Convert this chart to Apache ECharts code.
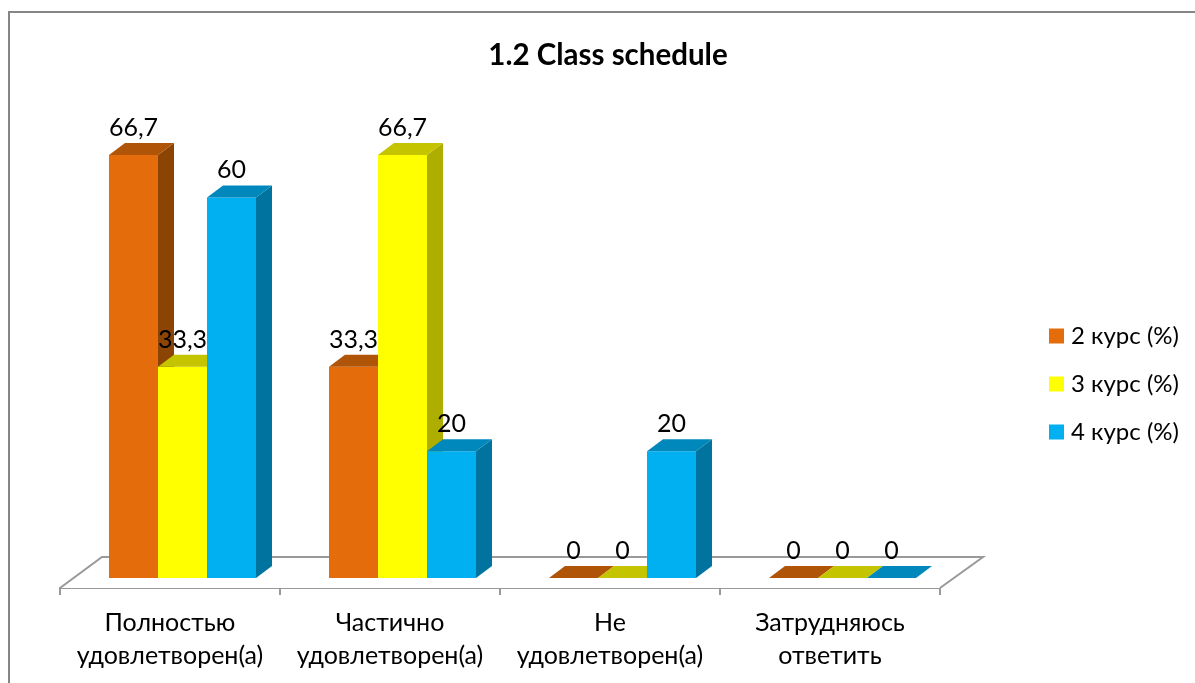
<!DOCTYPE html>
<html>
<head>
<meta charset="utf-8">
<style>
    html, body { margin: 0; padding: 0; background: #fff; }
    #chart { width: 1195px; height: 683px; }
</style>
<script src="https://cdn.jsdelivr.net/npm/echarts@6/dist/echarts.min.js"></script>
</head>
<body>
<div id="chart"></div>
<script>
    const categories = ['Полностью\nудовлетворен(а)', 'Частично\nудовлетворен(а)', 'Не\nудовлетворен(а)', 'Затрудняюсь\nответить']
    const course2 = [66.7, 33.3, 0, 0]
    const course3 = [33.3, 66.7, 0, 0]
    const course4 = [60, 20, 20, 0]

    const fontName = 'Lato, "Open Sans", sans-serif'
    const depthX = 16
    const depthY = 12

    // front, side, top colours of each course
    const faces = [
        ['#E46C0A', '#8C4405', '#B05408'],
        ['#FFFF00', '#AEAE00', '#C4C400'],
        ['#00B0F0', '#00739E', '#0088BD']
    ]

    function drawBar (seriesIndex) {
        return function (params, api) {
            const band = api.size([1, 0])[0]
            const width = band * 49 / 220
            const top = api.coord([api.value(0), api.value(1)])
            const base = api.coord([api.value(0), 0])
            const x = top[0] - band * 61 / 220 + seriesIndex * width
            const colors = faces[seriesIndex]
            const children = []
            if (api.value(1) > 0) {
                children.push({
                    type: 'rect',
                    shape: { x: x, y: top[1], width: width, height: base[1] - top[1] },
                    style: { fill: colors[0] }
                })
                children.push({
                    type: 'polygon',
                    shape: { points: [[x + width, top[1]], [x + width + depthX, top[1] - depthY], [x + width + depthX, base[1] - depthY], [x + width, base[1]]] },
                    style: { fill: colors[1] }
                })
            }
            children.push({
                type: 'polygon',
                shape: { points: [[x, top[1]], [x + depthX, top[1] - depthY], [x + width + depthX, top[1] - depthY], [x + width, top[1]]] },
                style: { fill: colors[2] }
            })
            children.push({
                type: 'text',
                z2: 100,
                style: {
                    text: String(api.value(1)).replace('.', ','),
                    x: x + width / 2,
                    y: top[1] - 27,
                    align: 'center',
                    verticalAlign: 'middle',
                    fill: '#000',
                    font: '25px ' + fontName
                }
            })
            return { type: 'group', children: children }
        }
    }

    function drawFloor (params) {
        const rect = params.coordSys
        const front = rect.y + rect.height + 10
        return {
            type: 'polyline',
            shape: {
                points: [[rect.x, front], [rect.x + 42, front - 31], [rect.x + rect.width + 43, front - 31], [rect.x + rect.width, front]]
            },
            style: { fill: '#fff', stroke: '#999', lineWidth: 2 }
        }
    }

    function barSeries (name, values, index) {
        return {
            name: name,
            type: 'custom',
            renderItem: drawBar(index),
            clip: false,
            z: 3,
            encode: { x: 0, y: 1 },
            itemStyle: { color: faces[index][0] },
            data: values.map((v, i) => [i, v])
        }
    }

    const myChart = echarts.init(document.getElementById('chart'))
    myChart.setOption({
        animation: false,
        backgroundColor: '#fff',
        textStyle: { fontFamily: fontName },
        title: {
            text: '1.2 Class schedule',
            left: 603,
            top: 35,
            textAlign: 'center',
            textStyle: { fontSize: 29.5, fontWeight: 'bold', color: '#000', fontFamily: fontName }
        },
        legend: {
            orient: 'vertical',
            left: 1049,
            top: 324,
            padding: 0,
            icon: 'rect',
            itemWidth: 15,
            itemHeight: 15,
            itemGap: 24,
            data: ['2 курс (%)', '3 курс (%)', '4 курс (%)'],
            textStyle: { fontSize: 24, color: '#000', padding: [0, 0, 0, 2] }
        },
        grid: { left: 60, width: 880, top: 134, height: 444 },
        xAxis: {
            type: 'category',
            data: categories,
            offset: 10,
            axisLine: { onZero: false, lineStyle: { color: '#999', width: 2 } },
            axisTick: { show: true, alignWithLabel: false, length: 7, lineStyle: { color: '#999', width: 2 } },
            axisLabel: { interval: 0, color: '#000', fontSize: 25, lineHeight: 33, margin: 18 }
        },
        yAxis: { type: 'value', min: 0, max: 70, show: false },
        graphic: [{
            type: 'polyline',
            shape: { points: [[9, 683], [9, 12], [1195, 12]] },
            style: { fill: 'none', stroke: '#868686', lineWidth: 2 },
            silent: true
        }],
        series: [
            { type: 'custom', renderItem: drawFloor, clip: false, z: 1, silent: true, data: [[0, 0]] },
            barSeries('2 курс (%)', course2, 0),
            barSeries('3 курс (%)', course3, 1),
            barSeries('4 курс (%)', course4, 2)
        ]
    })
</script>
</body>
</html>
